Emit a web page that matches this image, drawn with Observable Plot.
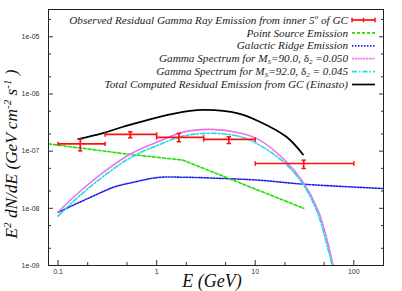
<!DOCTYPE html>
<html>
<head>
<meta charset="utf-8">
<script src="https://cdn.jsdelivr.net/npm/d3@7"></script>
<script src="https://cdn.jsdelivr.net/npm/@observablehq/plot@0.6"></script>
<style>
  html, body { margin: 0; padding: 0; background: #fff; }
  #chart { width: 402px; height: 291px; }
</style>
</head>
<body>
<div id="chart"></div>
<script>
// ---------- data ----------
// Observed residual gamma-ray emission (red error bars)
const obsE      = [0.168, 0.54, 1.68, 5.4, 31];
const obsELo    = [0.1, 0.3, 1, 3, 10];
const obsEHi    = [0.3, 1, 3, 10, 100];
const obsFlux   = [1.34e-7, 1.96e-7, 1.74e-7, 1.60e-7, 6.08e-8];
const obsFluxLo = [1.01e-7, 1.71e-7, 1.46e-7, 1.36e-7, 4.97e-8];
const obsFluxHi = [1.62e-7, 2.18e-7, 2.04e-7, 1.78e-7, 6.95e-8];

// Point source emission (green)
const pointE    = [0.08, 0.5, 1.85, 31];
const pointFlux = [1.34e-7, 8.9e-8, 6.95e-8, 1.0e-8];

// Galactic ridge emission (blue)
const ridgeE    = [0.1, 0.217, 0.375, 0.6, 1.03, 1.85, 4, 11.1, 31, 196];
const ridgeFlux = [8.5e-9, 1.58e-8, 2.37e-8, 2.89e-8, 3.46e-8, 3.5e-8, 3.36e-8, 3.1e-8, 2.64e-8, 2.22e-8];

// Gamma spectrum Ms=90.0, d2=0.050 (magenta)
const dm90E    = [0.1, 0.172, 0.308, 0.553, 1.03, 1.85, 3.6, 6.98, 11.1, 19.9, 30.5, 43.4, 54.8, 61.5];
const dm90Flux = [8.6e-9, 2.07e-8, 4.64e-8, 9.1e-8, 1.46e-7, 2.15e-7, 2.4e-7, 2.07e-7, 1.56e-7, 6.95e-8, 2.89e-8, 9.2e-9, 2.4e-9, 1.0e-9];

// Gamma spectrum Ms=92.0, d2=0.045 (cyan)
const dm92E    = [0.1, 0.172, 0.308, 0.553, 1.03, 1.85, 3.6, 6.98, 11.1, 19.9, 30.5, 43, 54, 60.5];
const dm92Flux = [7.3e-9, 1.76e-8, 3.95e-8, 7.85e-8, 1.27e-7, 1.83e-7, 2.05e-7, 1.8e-7, 1.27e-7, 6.2e-8, 2.64e-8, 8.2e-9, 2.1e-9, 1.0e-9];

// Total computed residual emission (black)
const totalE    = [0.16, 0.286, 0.459, 1.0, 2.17, 3.1, 6.66, 11.1, 20.7, 30.5];
const totalFlux = [1.62e-7, 2.07e-7, 2.67e-7, 3.87e-7, 5.04e-7, 5.25e-7, 4.58e-7, 3.27e-7, 1.78e-7, 8.75e-8];

// ticks
const xMajor = [0.1, 1, 10, 100];
const xLabels = ["0.1", "1", "10", "100"];
const xMinor = [0.2, 0.5, 2, 5, 20, 50];
const yMajor = [1e-9, 1e-8, 1e-7, 1e-6, 1e-5];
const yLabels = ["1e-09", "1e-08", "1e-07", "1e-06", "1e-05"];
const yMinor = [2e-9, 5e-9, 2e-8, 5e-8, 2e-7, 5e-7, 2e-6, 5e-6, 2e-5];

// ---------- build ----------
const zip = (xs, ys) => xs.map((x, i) => ({x, y: ys[i]}));
const obs = obsE.map((e, i) => ({
  e, eLo: obsELo[i], eHi: obsEHi[i], f: obsFlux[i], fLo: obsFluxLo[i], fHi: obsFluxHi[i]
}));

const vbar = {draw(ctx, size) { const r = Math.sqrt(size / Math.PI); ctx.moveTo(0, -r); ctx.lineTo(0, r); }};
const hbar = {draw(ctx, size) { const r = Math.sqrt(size / Math.PI); ctx.moveTo(-r, 0); ctx.lineTo(r, 0); }};

const RED = "#ff1010", GREEN = "#22dd00", BLUE = "#2020ee", MAGENTA = "#f070f0", CYAN = "#20dcdc";

const chart = Plot.plot({
  width: 402,
  height: 291,
  marginLeft: 48,
  marginRight: 19,
  marginTop: 9,
  marginBottom: 26,
  style: {background: "#fff", fontFamily: "Liberation Sans, Arial, sans-serif", fontSize: "7px", color: "#333"},
  x: {type: "log", domain: [0.08, 200]},
  y: {type: "log", domain: [1e-9, 3e-5]},
  marks: [
    // ticks (inward, mirrored)
    Plot.axisY(yMajor, {anchor: "left", tickSize: -5, tickFormat: () => "", label: null, stroke: "#333"}),
    Plot.axisY(yMajor, {anchor: "right", tickSize: -5, tickFormat: () => "", label: null, stroke: "#333"}),
    Plot.axisY(yMinor, {anchor: "left", tickSize: -3, tickFormat: () => "", label: null, stroke: "#333"}),
    Plot.axisY(yMinor, {anchor: "right", tickSize: -3, tickFormat: () => "", label: null, stroke: "#333"}),
    Plot.axisY(yMajor, {anchor: "left", tickSize: 0, tickPadding: 9, tickFormat: d => yLabels[yMajor.indexOf(d)], label: null}),
    Plot.axisX(xMajor, {anchor: "bottom", tickSize: -5, tickFormat: () => "", label: null, stroke: "#333"}),
    Plot.axisX(xMinor, {anchor: "bottom", tickSize: -3, tickFormat: () => "", label: null, stroke: "#333"}),
    Plot.axisX(xMajor, {anchor: "bottom", tickSize: 0, tickPadding: 4, tickFormat: d => xLabels[xMajor.indexOf(d)], label: null}),
    // curves
    Plot.line(zip(ridgeE, ridgeFlux), {x: "x", y: "y", stroke: BLUE, strokeWidth: 1.6, strokeDasharray: "1.5,1.5", curve: "catmull-rom", clip: true}),
    Plot.line(zip(pointE, pointFlux), {x: "x", y: "y", stroke: GREEN, strokeWidth: 1.6, strokeDasharray: "3,2", clip: true}),
    Plot.line(zip(dm90E, dm90Flux), {x: "x", y: "y", stroke: MAGENTA, strokeWidth: 1.6, curve: "catmull-rom", clip: true}),
    Plot.line(zip(dm92E, dm92Flux), {x: "x", y: "y", stroke: CYAN, strokeWidth: 1.6, strokeDasharray: "5,2,1.5,2", curve: "catmull-rom", clip: true}),
    Plot.line(zip(totalE, totalFlux), {x: "x", y: "y", stroke: "#000", strokeWidth: 1.8, curve: "catmull-rom"}),
    // observed data with error bars
    Plot.link(obs, {x1: "eLo", x2: "eHi", y1: "f", y2: "f", stroke: RED, strokeWidth: 1.7}),
    Plot.link(obs, {x1: "e", x2: "e", y1: "fLo", y2: "fHi", stroke: RED, strokeWidth: 1.7}),
    Plot.dot(obs, {x: "eLo", y: "f", symbol: vbar, r: 2.2, stroke: RED, fill: "none", strokeWidth: 1.5}),
    Plot.dot(obs, {x: "eHi", y: "f", symbol: vbar, r: 2.2, stroke: RED, fill: "none", strokeWidth: 1.5}),
    Plot.dot(obs, {x: "e", y: "fLo", symbol: hbar, r: 2.2, stroke: RED, fill: "none", strokeWidth: 1.5}),
    Plot.dot(obs, {x: "e", y: "fHi", symbol: hbar, r: 2.2, stroke: RED, fill: "none", strokeWidth: 1.5}),
    Plot.frame({stroke: "#222", strokeWidth: 1})
  ]
});

// ---------- legend & axis titles ----------
const svg = d3.select(chart);
const serif = "Liberation Serif, Times New Roman, serif";
const legend = [
  {parts: [["Observed Residual Gamma Ray Emission from inner 5"], ["o", "sup"], [" of GC"]], color: RED, dash: null, err: true},
  {parts: [["Point Source Emission"]], color: GREEN, dash: "3,2"},
  {parts: [["Galactic Ridge Emission"]], color: BLUE, dash: "1.5,1.5"},
  {parts: [["Gamma Spectrum for M"], ["S", "sub"], ["=90.0, "], ["δ", "up"], ["2", "sub"], [" =0.050"]], color: MAGENTA, dash: "2,0.8"},
  {parts: [["Gamma Spectrum for M"], ["S", "sub"], ["=92.0, "], ["δ", "up"], ["2", "sub"], [" = 0.045"]], color: CYAN, dash: "5,2,1.5,2"},
  {parts: [["Total Computed Residual Emission from GC (Einasto)"]], color: "#000", dash: null}
];
const lg = svg.append("g");
legend.forEach((d, i) => {
  const cy = 20 + i * 12.9;
  const t = lg.append("text")
    .attr("x", 348).attr("y", cy + 3.6)
    .attr("text-anchor", "end")
    .attr("font-family", serif).attr("font-style", "italic").attr("font-size", 11.2)
    .attr("fill", "#222");
  d.parts.forEach(([s, kind]) => {
    const ts = t.append("tspan").text(s);
    if (kind === "sup") ts.attr("font-size", 7).attr("baseline-shift", "5");
    if (kind === "sub") ts.attr("font-size", 7).attr("baseline-shift", "-2");
    if (kind === "up") ts.attr("font-style", "normal");
  });
  const ln = lg.append("line").attr("x1", 352).attr("x2", 375).attr("y1", cy).attr("y2", cy)
    .attr("stroke", d.color).attr("stroke-width", 1.7);
  if (d.dash) ln.attr("stroke-dasharray", d.dash);
  if (d.err) {
    [352, 363.5, 375].forEach(x => lg.append("line").attr("x1", x).attr("x2", x)
      .attr("y1", cy - 2.2).attr("y2", cy + 2.2).attr("stroke", d.color).attr("stroke-width", 1.5));
  }
});

// y axis title
const yt = svg.append("text")
  .attr("transform", "translate(17,154) rotate(-90)")
  .attr("text-anchor", "middle")
  .attr("font-family", serif).attr("font-style", "italic").attr("font-size", 17.3)
  .attr("fill", "#111");
[["E"], ["2", "sup"], [" dN/dE (GeV cm"], ["-2", "sup"], [" s"], ["-1", "sup"], [" )"]].forEach(([s, kind]) => {
  const ts = yt.append("tspan").text(s);
  if (kind === "sup") ts.attr("font-size", 11).attr("baseline-shift", "6");
});

// x axis title
svg.append("text")
  .attr("x", 212).attr("y", 287)
  .attr("text-anchor", "middle")
  .attr("font-family", serif).attr("font-style", "italic").attr("font-size", 18)
  .attr("fill", "#111")
  .text("E (GeV)");

document.getElementById("chart").appendChild(chart);
</script>
</body>
</html>
